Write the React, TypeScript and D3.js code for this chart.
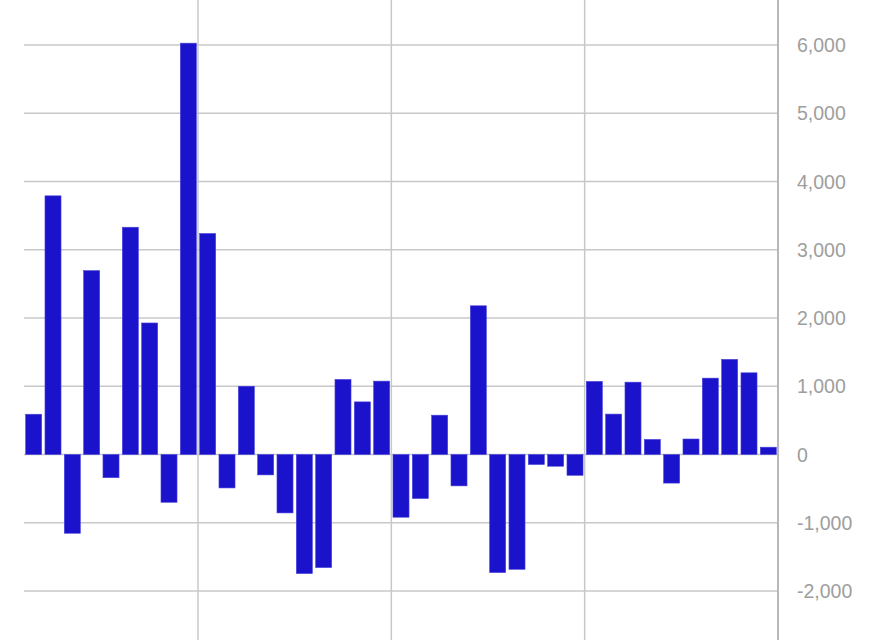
import React from "react";
import * as d3 from "d3";

const categories: string[] = Array.from({ length: 39 }, (_, i) => `P${i + 1}`);
const values: number[] = [
  590, 3790, -1154, 2694, -340, 3330, 1927, -700, 6027, 3238,
  -490, 1000, -299, -856, -1745, -1657, 1100, 771, 1075, -919,
  -645, 576, -460, 2179, -1730, -1682, -147, -172, -305, 1071,
  592, 1060, 221, -419, 227, 1119, 1394, 1197, 107,
];
const yTicks: number[] = [-2000, -1000, 0, 1000, 2000, 3000, 4000, 5000, 6000];
const verticalGridAt: number[] = [9, 19, 29];

const W = 896;
const H = 640;
const left = 24;
const right = 778;

export default function App() {
  const x = d3
    .scaleBand<string>()
    .domain(categories)
    .range([left, right])
    .paddingInner(0.17)
    .paddingOuter(0.085);
  const y = d3.scaleLinear().domain([-2000, 6000]).range([591, 45]);
  const fmt = (t: number) => d3.format(",")(t).replace("\u2212", "-");
  const step = x.step();
  const x0 = (x(categories[0]) as number) - step * 0.085;

  return (
    <svg
      width={W}
      height={H}
      style={{ position: "fixed", left: 0, top: 0, background: "#fff" }}
      fontFamily="'Liberation Sans', Arial, sans-serif"
    >
      <rect x={0} y={0} width={W} height={H} fill="#fff" />
      {yTicks.map((t) => (
        <line
          key={"h" + t}
          x1={left}
          x2={right}
          y1={y(t)}
          y2={y(t)}
          stroke="#c8c8c8"
          strokeWidth={1.5}
        />
      ))}
      {verticalGridAt.map((k) => (
        <line
          key={"v" + k}
          x1={x0 + k * step}
          x2={x0 + k * step}
          y1={0}
          y2={H}
          stroke="#c8c8c8"
          strokeWidth={1.5}
        />
      ))}
      {values.map((v, i) => {
        const xx = x(categories[i]) as number;
        const y1 = y(Math.max(0, v));
        const y2 = y(Math.min(0, v));
        return (
          <rect
            key={i}
            x={xx}
            y={y1}
            width={x.bandwidth()}
            height={Math.max(0, y2 - y1)}
            fill="#1b12cc"
            stroke="#4a44dc"
            strokeWidth={0.6}
          />
        );
      })}
      <line x1={right} x2={right} y1={0} y2={H} stroke="#b8b8b8" strokeWidth={2} />
      {yTicks.map((t) => (
        <text
          key={"t" + t}
          x={797}
          y={y(t)}
          dy="0.36em"
          fontSize={19.5}
          fill="#9e9e9e"
        >
          {fmt(t)}
        </text>
      ))}
    </svg>
  );
}
